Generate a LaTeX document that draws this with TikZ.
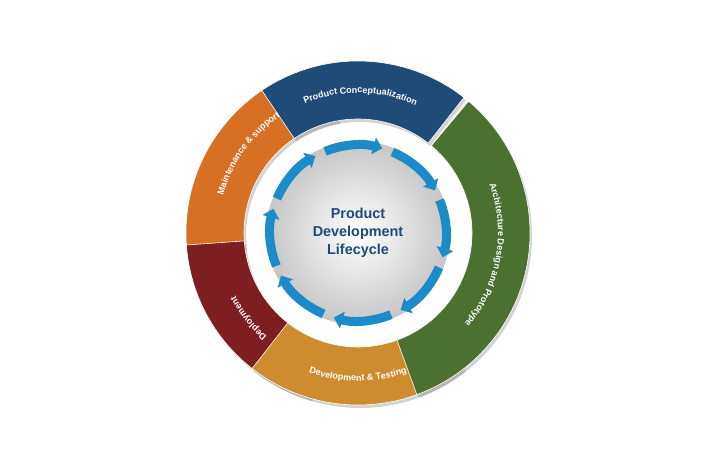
\documentclass[tikz,border=0pt]{standalone}
\usepackage{fontspec}
\setmainfont{Liberation Sans}
\setsansfont{Liberation Sans}
\usetikzlibrary{arrows.meta, decorations.text, shadows}
\definecolor{conceptblue}{RGB}{31, 75, 120}
\definecolor{archgreen}{RGB}{76, 112, 48}
\definecolor{testgold}{RGB}{205, 140, 45}
\definecolor{deployred}{RGB}{125, 30, 32}
\definecolor{maintorange}{RGB}{215, 112, 35}
\definecolor{ringblue}{RGB}{28, 140, 200}
\definecolor{titleblue}{RGB}{31, 73, 125}
\tikzset{
  segment/.style={fill=#1, draw=white, line width=0.6pt,
    drop shadow={opacity=0.35, shadow xshift=2pt, shadow yshift=-3pt}},
  ringarrow/.style={ringblue, line width=9pt, -{Triangle[length=9pt, width=17pt]}},
  seglabel/.style={decorate, decoration={text along path, text align=center,
    text color=white, text={|\sffamily\bfseries\small|#1}}}
}
% annular sector: start angle, end angle, colour
\newcommand{\lifeseg}[3]{\path[segment=#3] (#1:114) arc[start angle=#1, end angle=#2, radius=114]
  -- (#2:172) arc[start angle=#2, end angle=#1, radius=172] -- cycle;}

\begin{document}
\begin{tikzpicture}[x=1pt, y=1pt]
  \useasboundingbox (0,0) rectangle (715,465);
  \begin{scope}[shift={(358,232)}]
    % outer segments
    \lifeseg{100}{188}{maintorange}
    \lifeseg{184}{254}{deployred}
    \lifeseg{-128}{-52}{testgold}
    \lifeseg{52}{124}{conceptblue}
    \lifeseg{-70}{50}{archgreen}

    % labels along the segments
    \path[seglabel=Product Conceptualization] (124:140) arc[start angle=124, end angle=54, radius=140];
    \path[seglabel=Architecture Design and Prototype] (48:140) arc[start angle=48, end angle=-68, radius=140];
    \path[seglabel=Development {\&} Testing] (-126:148) arc[start angle=-126, end angle=-54, radius=148];
    \path[seglabel=Deployment] (248:138) arc[start angle=248, end angle=188, radius=138];
    \path[seglabel=Maintenance {\&} support] (190:140) arc[start angle=190, end angle=98, radius=140];

    % centre disc
    \shade[inner color=white, outer color=gray!45] (0,0) circle[radius=92];
    \node[align=center, font=\sffamily\bfseries\Large, text=titleblue] (title) at (0,0)
      {Product\\Development\\Lifecycle};

    % ring of arrows
    \foreach \a in {112, 67, 22, -23, -68, -113, -158, -203}
      \draw[ringarrow] (\a:88) arc[start angle=\a, end angle=\a-38, radius=88];
  \end{scope}
\end{tikzpicture}
\end{document}
